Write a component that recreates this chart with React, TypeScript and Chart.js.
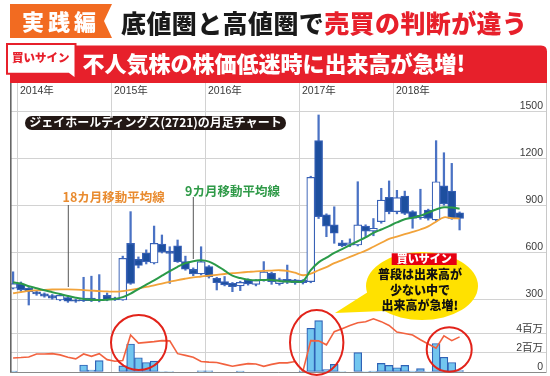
import React, { useEffect, useRef } from 'react';
import { Chart, registerables } from 'chart.js';

Chart.register(...registerables);

// ---------- data ----------
const MONTHS = [
  '2013-12',
  '2014-01', '2014-02', '2014-03', '2014-04', '2014-05', '2014-06', '2014-07', '2014-08', '2014-09', '2014-10', '2014-11', '2014-12',
  '2015-01', '2015-02', '2015-03', '2015-04', '2015-05', '2015-06', '2015-07', '2015-08', '2015-09', '2015-10', '2015-11', '2015-12',
  '2016-01', '2016-02', '2016-03', '2016-04', '2016-05', '2016-06', '2016-07', '2016-08', '2016-09', '2016-10', '2016-11', '2016-12',
  '2017-01', '2017-02', '2017-03', '2017-04', '2017-05', '2017-06', '2017-07', '2017-08', '2017-09', '2017-10', '2017-11', '2017-12',
  '2018-01', '2018-02', '2018-03', '2018-04', '2018-05', '2018-06', '2018-07', '2018-08', '2018-09',
];

const OPEN = [375,
  402, 375, 352, 340, 328, 300, 315, 300, 295, 312, 305, 330,
  312, 300, 662, 560, 600, 536, 657, 612, 645, 545, 496, 466,
  513, 438, 417, 406, 390, 428, 400, 428, 470, 405, 432, 428,
  425, 417, 1317, 843, 779, 665, 650, 651, 772, 740, 800, 955,
  864, 964, 864, 825, 874, 811, 1028, 996, 857];

const CLOSE = [405,
  364, 353, 338, 325, 312, 330, 292, 292, 312, 296, 295, 300,
  300, 566, 406, 520, 543, 662, 606, 598, 545, 496, 466, 545,
  449, 410, 396, 385, 412, 402, 425, 480, 417, 430, 413, 410,
  410, 1083, 832, 772, 726, 647, 665, 779, 740, 758, 938, 864,
  953, 853, 821, 840, 821, 1055, 913, 821, 821];

const HIGH = [480,
  415, 380, 358, 345, 335, 335, 320, 305, 445, 452, 462, 345,
  318, 580, 864, 575, 620, 772, 715, 640, 683, 580, 505, 640,
  520, 445, 450, 412, 420, 435, 430, 545, 478, 440, 523, 432,
  430, 1090, 1481, 850, 895, 680, 690, 1055, 780, 820, 1013, 1060,
  1000, 995, 870, 1007, 880, 1317, 1240, 1172, 862];

const LOW = [370,
  355, 268, 330, 318, 305, 295, 285, 285, 290, 290, 288, 295,
  297, 298, 400, 505, 530, 530, 600, 406, 540, 490, 455, 460,
  440, 364, 390, 353, 360, 395, 390, 420, 400, 395, 405, 400,
  402, 410, 820, 704, 662, 640, 640, 645, 700, 710, 790, 850,
  850, 845, 758, 815, 810, 805, 905, 815, 747];

const MA9 = [413,
  405, 388, 375, 362, 350, 338, 326, 315, 306, 301, 300, 302,
  306, 318, 340, 370, 398, 425, 455, 485, 512, 535, 548, 553,
  545, 520, 488, 455, 440, 430, 426, 428, 428, 422, 418, 417,
  420, 490, 540, 570, 600, 625, 650, 675, 700, 728, 750, 772,
  795, 815, 825, 838, 858, 878, 892, 890, 882];

const MA18 = [343,
  350, 358, 362, 365, 367, 368, 368, 366, 363, 360, 357, 355,
  353, 357, 364, 373, 383, 394, 405, 416, 427, 436, 444, 450,
  456, 461, 466, 471, 475, 479, 483, 486, 488, 490, 486, 474,
  458, 468, 490, 510, 535, 555, 575, 595, 615, 640, 665, 690,
  705, 720, 735, 750, 770, 800, 828, 822, 820];

// volume in millions of shares
const VOLUME = [0.1,
  0, 0, 0, 0, 0, 0, 0, 0, 0.74, 0.2, 1.2, 0,
  0, 0.65, 2.95, 1.5, 1.0, 1.15, 0.05, 0.05, 0, 0, 0, 0.12,
  0.12, 0, 0, 0, 0.1, 0, 0, 0, 0, 0, 0, 0,
  0.1, 4.6, 5.4, 0.25, 0.8, 0.05, 0, 2.05, 0.05, 0.1, 0.9, 0.7,
  0.45, 0.7, 0.1, 0.35, 0.05, 3.0, 1.55, 1.0, 0.15];

const VOL_MA = [1.48,
  1.52, 1.58, 1.9, 1.9, 1.93, 1.8, 1.55, 1.38, 1.9, 1.65, 1.93, 1.3,
  1.13, 1.2, 3.9, 3.04, 3.12, 3.2, 3.3, 3.28, 1.93, 1.75, 1.55, 1.1,
  1.04, 1.0, 0.8, 0.6, 0.75, 0.88, 0.85, 0.6, 0.8, 0.96, 0.96, 1.1,
  0.08, 3.3, 3.28, 2.86, 4.25, 4.55, 4.9, 5.19, 5.28, 5.6, 5.3, 4.9,
  4.2, 4.05, 3.9, 3.4, 2.95, 2.5, 3.8, 3.3, 3.7];

const YEAR_LABELS = ['2014年', '2015年', '2016年', '2017年', '2018年'];
const PRICE_TICKS = [300, 600, 900, 1200, 1500];
const PRICE_LABELS = ['300', '600', '900', '1200', '1500'];
const VOL_TICKS = [0, 2, 4];
const VOL_LABELS = ['0', '2百万', '4百万'];

// ---------- layout constants ----------
const X_MIN = -0.894;
const X_MAX = 67.53;
const P_MIN = -159.6;
const P_MAX = 1685.1;
const V_MAX = 30.42;

const monthPos = (m: string) =>
  (Number(m.slice(0, 4)) - 2014) * 12 + Number(m.slice(5, 7)) - 1 + 0.5;
const yearPos = (label: string) => (Number(label.slice(0, 4)) - 2014) * 12;

const GRID = '#d2d2d2';
const AXIS_FONT = '10.5px "Liberation Sans", "Noto Sans CJK JP", sans-serif';
const JP = '"Noto Sans CJK JP", "Noto Sans", sans-serif';

const labelPlugin = {
  id: 'axisLabels',
  afterDraw(chart: any) {
    const { ctx, chartArea, scales } = chart;
    ctx.save();
    ctx.fillStyle = '#3a3a3a';
    ctx.font = AXIS_FONT;
    ctx.textBaseline = 'middle';
    ctx.textAlign = 'left';
    YEAR_LABELS.forEach((lab) => {
      const px = scales.x.getPixelForValue(yearPos(lab));
      ctx.fillText(lab, px + 3, chartArea.top + 8.5);
    });
    ctx.textAlign = 'right';
    PRICE_TICKS.forEach((v, k) => {
      ctx.fillText(PRICE_LABELS[k], chartArea.right - 3, scales.y.getPixelForValue(v) - 5.5);
    });
    VOL_TICKS.forEach((v, k) => {
      ctx.fillText(VOL_LABELS[k], chartArea.right - 3, scales.yv.getPixelForValue(v) - 5);
    });
    ctx.strokeStyle = '#666';
    ctx.lineWidth = 1.6;
    ctx.beginPath();
    ctx.moveTo(chartArea.left + 0.8, chartArea.top);
    ctx.lineTo(chartArea.left + 0.8, chartArea.bottom);
    ctx.stroke();
    ctx.restore();
  },
};

function T(props: { x: number; y: number; size: number; color: string; weight?: number; w?: number; ls?: number; children: React.ReactNode }) {
  const { x, y, size, color, weight = 700, w, ls = 0, children } = props;
  return (
    <div
      style={{
        position: 'absolute',
        left: x,
        top: y,
        width: w,
        textAlign: w ? 'center' : 'left',
        fontSize: size,
        lineHeight: 1,
        fontWeight: weight,
        color,
        letterSpacing: ls,
        whiteSpace: 'nowrap',
        fontFamily: JP,
      }}
    >
      {children}
    </div>
  );
}

export default function App() {
  const ref = useRef<HTMLCanvasElement>(null);

  useEffect(() => {
    const canvas = ref.current;
    if (!canvas) return;
    const xs = MONTHS.map(monthPos);
    const up = OPEN.map((o, i) => CLOSE[i] >= o);

    const chart = new Chart(canvas, {
      type: 'bar',
      data: {
        datasets: [
          {
            type: 'line',
            label: '9カ月移動平均線',
            data: xs.map((x, i) => ({ x, y: MA9[i] })),
            yAxisID: 'y',
            borderColor: '#2a9a48',
            borderWidth: 2,
            pointRadius: 0,
            tension: 0.35,
            order: 0,
          } as any,
          {
            type: 'line',
            label: '18カ月移動平均線',
            data: xs.map((x, i) => ({ x, y: MA18[i] })),
            yAxisID: 'y',
            borderColor: '#f2a33a',
            borderWidth: 1.8,
            pointRadius: 0,
            tension: 0.35,
            order: 1,
          } as any,
          {
            type: 'bar',
            label: 'body',
            data: xs.map((x, i) => ({ x, y: [OPEN[i], CLOSE[i]] })),
            yAxisID: 'y',
            backgroundColor: up.map((u) => (u ? '#ffffff' : '#1d4f9f')),
            borderColor: '#3861b6',
            borderWidth: 1.2,
            borderSkipped: false,
            barThickness: 8,
            grouped: false,
            order: 2,
          } as any,
          {
            type: 'bar',
            label: 'wick',
            data: xs.map((x, i) => ({ x, y: [LOW[i], HIGH[i]] })),
            yAxisID: 'y',
            backgroundColor: '#4a72c4',
            borderWidth: 0,
            barThickness: 1.6,
            grouped: false,
            order: 3,
          } as any,
          {
            type: 'line',
            label: 'vol ma',
            data: xs.map((x, i) => ({ x, y: VOL_MA[i] })),
            yAxisID: 'yv',
            borderColor: '#f2623f',
            borderWidth: 1.6,
            pointRadius: 0,
            tension: 0,
            order: 4,
          } as any,
          {
            type: 'bar',
            label: 'volume',
            data: xs.map((x, i) => ({ x, y: VOLUME[i] > 0 ? VOLUME[i] : null })),
            yAxisID: 'yv',
            backgroundColor: '#72c6ef',
            borderColor: '#2f62b6',
            borderWidth: 1.2,
            borderSkipped: false,
            barPercentage: 1,
            categoryPercentage: 1,
            grouped: false,
            order: 5,
          } as any,
        ],
      },
      options: {
        responsive: false,
        maintainAspectRatio: false,
        animation: false,
        devicePixelRatio: 1,
        events: [],
        layout: { padding: { left: 10, right: 4, top: 83, bottom: 4 }, autoPadding: false },
        plugins: { legend: { display: false }, tooltip: { enabled: false }, title: { display: false } },
        scales: {
          x: {
            type: 'linear',
            min: X_MIN,
            max: X_MAX,
            offset: false,
            grid: { offset: false, color: GRID, lineWidth: 1, drawTicks: false },
            border: { display: true, color: '#8a8a8a', width: 1 },
            ticks: { display: false },
            afterBuildTicks: (s: any) => {
              s.ticks = YEAR_LABELS.map((l) => ({ value: yearPos(l) }));
            },
          },
          y: {
            type: 'linear',
            position: 'right',
            min: P_MIN,
            max: P_MAX,
            grid: { color: GRID, lineWidth: 1, drawTicks: false },
            border: { display: true, color: '#c8c8c8', width: 1 },
            ticks: { display: false },
            afterBuildTicks: (s: any) => {
              s.ticks = PRICE_TICKS.map((v) => ({ value: v }));
            },
          },
          yv: {
            type: 'linear',
            position: 'right',
            min: 0,
            max: V_MAX,
            grid: { color: GRID, lineWidth: 1, drawTicks: false },
            border: { display: false },
            ticks: { display: false },
            afterBuildTicks: (s: any) => {
              s.ticks = VOL_TICKS.map((v) => ({ value: v }));
            },
          },
        } as any,
      },
      plugins: [labelPlugin],
    });
    return () => chart.destroy();
  }, []);

  const RED = '#e7202b';

  return (
    <div style={{ position: 'fixed', left: 0, top: 0, width: 550, height: 376, overflow: 'hidden', background: '#fff' }}>
      <canvas ref={ref} width={550} height={376} style={{ position: 'absolute', left: 0, top: 0, width: 550, height: 376 }} />
      <svg width={550} height={376} style={{ position: 'absolute', left: 0, top: 0 }}>
        {/* header shapes */}
        <polygon points="10,4 112,4 104,21 112,38 10,38" fill="#f26b21" />
        <path d="M10,45.5 H541 Q547,45.5 547,51.5 V83 H10 Z" fill={RED} />
        <path d="M7,44 H75.5 V79 L68.5,73.7 H7 Z" fill="#fff" stroke={RED} strokeWidth={2} />
        {/* chart annotations */}
        <rect x={25} y={116} width={261} height={14} rx={7} fill="#231815" />
        <line x1={68.3} y1={205} x2={68.3} y2={287} stroke="#555" strokeWidth={1} />
        <line x1={193.3} y1={197} x2={193.3} y2={259} stroke="#555" strokeWidth={1} />
        <polygon points="335,313 368,292 384,311" fill="#ffe100" />
        <ellipse cx={422} cy={286} rx={56} ry={34} fill="#ffe100" />
        <rect x={391.7} y={253.3} width={65} height={11.7} fill="#e60012" />
        <ellipse cx={138.8} cy={342.5} rx={27.8} ry={27.5} fill="none" stroke="#e2231a" strokeWidth={2} />
        <ellipse cx={316.7} cy={342.5} rx={26.7} ry={32.5} fill="none" stroke="#e2231a" strokeWidth={2} />
        <ellipse cx={449.2} cy={349.5} rx={22.5} ry={22.2} fill="none" stroke="#e2231a" strokeWidth={2} />
      </svg>
      <T x={22} y={8.8} size={22} color="#fff" weight={900} ls={4}>実践編</T>
      <T x={121} y={9.8} size={25} color="#1a1a1a" weight={900} ls={0.4}>
        底値圏と高値圏で<span style={{ color: RED }}>売買の判断が違う</span>
      </T>
      <T x={12} y={51.5} size={11.5} color={RED} weight={900}>買いサイン</T>
      <T x={82.5} y={51} size={22} color="#fff" weight={900}>不人気株の株価低迷時に出来高が急増!</T>
      <T x={25} y={116.3} w={261} size={12} color="#fff" weight={700}>ジェイホールディングス(2721)の月足チャート</T>
      <T x={62.5} y={191.3} size={12.5} color="#e98b2f" weight={700}>18カ月移動平均線</T>
      <T x={185} y={184.7} size={12.5} color="#2f9a48" weight={700}>9カ月移動平均線</T>
      <T x={391.7} y={253.1} w={65} size={11} color="#fff" weight={900}>買いサイン</T>
      <T x={360} y={268.3} w={120} size={12} color="#111" weight={900}>普段は出来高が</T>
      <T x={360} y={284} w={120} size={12} color="#111" weight={900}>少ない中で</T>
      <T x={360} y={299.3} w={120} size={12} color="#111" weight={900}>出来高が急増!</T>
    </div>
  );
}
